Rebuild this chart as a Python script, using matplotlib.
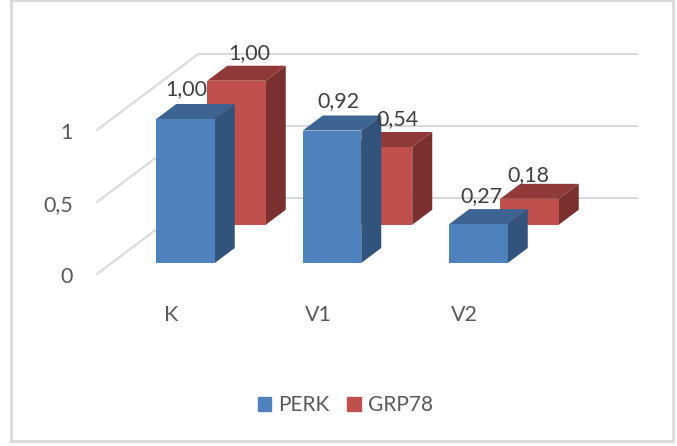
import matplotlib
matplotlib.use('Agg')
import matplotlib.pyplot as plt
from matplotlib.patches import Polygon, Patch

categories = ['K', 'V1', 'V2']
perk = [1.00, 0.92, 0.27]
grp78 = [1.00, 0.54, 0.18]
value_ticks = [0, 0.5, 1]
value_tick_labels = ['0', '0,5', '1']

W, H = 677, 446
BLUE = ('#4F81BD', '#3C6391', '#31537C')
RED = ('#C0504D', '#8F3A38', '#79302E')

# pixels per unit, the chart is a fake 3D so everything goes through project()
X_UNIT = 146.5
Y_UNIT = 144.0
BAR_W = 58.5 / X_UNIT
DEPTH_X = 20 / X_UNIT
DEPTH_Y = 15 / Y_UNIT
FLOOR_FRONT = -0.73
FLOOR_BACK = 4.33
FONT = 15.5


def project(x, value, depth):
    return x + depth * DEPTH_X, value + depth * DEPTH_Y


def draw_bar(ax, x, value, depth, colors, z):
    left, right = x - BAR_W / 2, x + BAR_W / 2
    x0, y0 = project(left, 0, depth)
    ax.bar(x0, value, BAR_W, bottom=y0, align='edge', color=colors[0], zorder=z + 0.2)
    top = [project(left, value, depth), project(right, value, depth),
           project(right, value, depth + 1), project(left, value, depth + 1)]
    side = [project(right, 0, depth), project(right, 0, depth + 1),
            project(right, value, depth + 1), project(right, value, depth)]
    ax.add_patch(Polygon(top, closed=True, color=colors[1], lw=0, zorder=z))
    ax.add_patch(Polygon(side, closed=True, color=colors[2], lw=0, zorder=z + 0.1))


plt.rcParams['font.family'] = ['Lato', 'DejaVu Sans']
fig = plt.figure(figsize=(W / 100, H / 100), dpi=100)
ax = fig.add_axes([10.5 / W, 5 / H, 662 / W, 441 / H])

# px -> data: first category centre is at 185.5 px, zero of the front row at 263 px
ax.set_xlim((10.5 - 185.5) / X_UNIT, (672.5 - 185.5) / X_UNIT)
ax.set_ylim((263 - 441) / Y_UNIT, (263 - 0) / Y_UNIT)
ax.set_xticks([])
ax.set_yticks([])
for s in ax.spines.values():
    s.set_color('#D9D9D9')
    s.set_linewidth(2)

wall_x = (111.6 - 185.5) / X_UNIT
right_x = (637 - 185.5) / X_UNIT
for v, lab in zip(value_ticks, value_tick_labels):
    a = project(wall_x, v, FLOOR_FRONT)
    b = project(wall_x, v, FLOOR_BACK)
    ax.plot([a[0], b[0], right_x], [a[1], b[1], b[1]], color='#D9D9D9', lw=1.5, zorder=1)
    ax.annotate(lab, a, xytext=(-24, -9), textcoords='offset pixels', ha='right', va='baseline',
                fontsize=FONT, color='#595959')

label_nudge_perk = [(1, -1), (6, -2), (3, -3)]
label_nudge_grp = [(13, -1), (15, -1), (-1, -5)]

for i, cat in enumerate(categories):
    ax.annotate(cat, (i, 0), xytext=(-14, -52), textcoords='offset pixels', ha='center', va='center',
                fontsize=FONT, color='#595959')

    draw_bar(ax, i, grp78[i], 2.55, RED, 2)
    draw_bar(ax, i, perk[i], 0, BLUE, 3)

    ax.annotate(f'{perk[i]:.2f}'.replace('.', ','), (i, perk[i]),
                xytext=(label_nudge_perk[i][0], 31 + label_nudge_perk[i][1]),
                textcoords='offset pixels', ha='center', va='center',
                fontsize=FONT, color='#404040', zorder=5)
    ax.annotate(f'{grp78[i]:.2f}'.replace('.', ','), project(i, grp78[i], 2.55),
                xytext=(label_nudge_grp[i][0], 29 + label_nudge_grp[i][1]),
                textcoords='offset pixels', ha='center', va='center',
                fontsize=FONT, color='#404040', zorder=5)

handles = [Patch(color=BLUE[0], label='PERK'), Patch(color=RED[0], label='GRP78')]
ax.legend(handles=handles, ncol=2, loc='center', bbox_to_anchor=(335 / 662, (441 - 405) / 441),
          frameon=False, fontsize=15, labelcolor='#595959', handlelength=0.65, handleheight=0.65,
          handletextpad=0.35, columnspacing=0.85, borderpad=0)

fig.savefig('out.png', dpi=100)
